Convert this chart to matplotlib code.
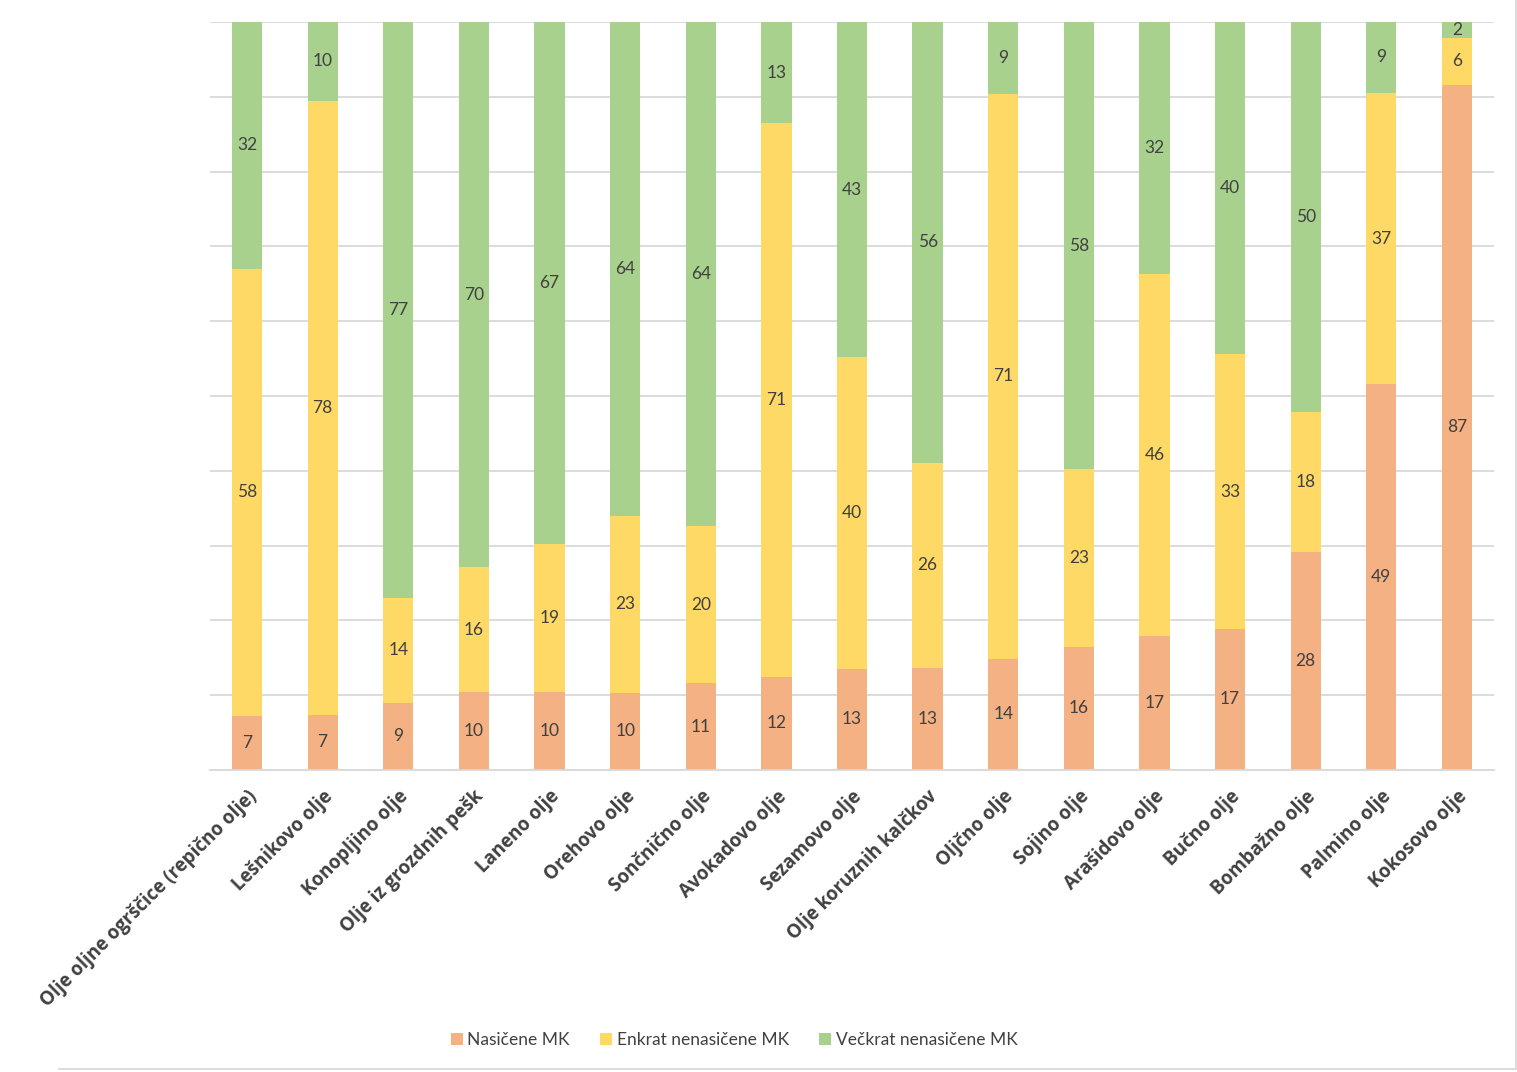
import matplotlib.pyplot as plt
import numpy as np
from matplotlib.lines import Line2D

plt.rcParams['font.family'] = ['Lato', 'DejaVu Sans']

oils = ['Olje oljne ogrščice (repično olje)', 'Lešnikovo olje', 'Konopljino olje',
        'Olje iz grozdnih pešk', 'Laneno olje', 'Orehovo olje', 'Sončnično olje',
        'Avokadovo olje', 'Sezamovo olje', 'Olje koruznih kalčkov', 'Oljčno olje',
        'Sojino olje', 'Arašidovo olje', 'Bučno olje', 'Bombažno olje',
        'Palmino olje', 'Kokosovo olje']
nasicene = [7, 7, 9, 10, 10, 10, 11, 12, 13, 13, 14, 16, 17, 17, 28, 49, 87]
enkrat = [58, 78, 14, 16, 19, 23, 20, 71, 40, 26, 71, 23, 46, 33, 18, 37, 6]
veckrat = [32, 10, 77, 70, 67, 64, 64, 13, 43, 56, 9, 58, 32, 40, 50, 9, 2]
series_names = ['Nasičene MK', 'Enkrat nenasičene MK', 'Večkrat nenasičene MK']

COLORS = ['#F4B183', '#FFD966', '#A9D18E']
TEXT = '#404040'

fig = plt.figure(figsize=(15.17, 10.72), dpi=100)
ax = fig.add_axes([210 / 1517, 1 - 770 / 1072, (1494 - 210) / 1517, (770 - 22) / 1072])

data = np.array([nasicene, enkrat, veckrat], dtype=float)
pct = data / data.sum(axis=0) * 100
x = np.arange(len(oils))
bottom = np.zeros(len(oils))
for vals, p, color, name in zip(data, pct, COLORS, series_names):
    ax.bar(x, p, 0.4, bottom=bottom, color=color, label=name, zorder=3)
    for xi, b, h, v in zip(x, bottom, p, vals):
        ax.text(xi, b + h / 2, f'{int(v)}', ha='center', va='center',
                fontsize=12.5, color=TEXT, zorder=4)
    bottom += p

ax.set_xlim(-0.49, len(oils) - 0.51)
ax.set_ylim(0, 100)
ax.set_yticks(np.arange(0, 101, 10))
ax.set_yticklabels([])
ax.tick_params(axis='y', length=0)
ax.grid(axis='y', color='#D9D9D9', linewidth=1.3, zorder=0)
for side in ['top', 'right', 'left']:
    ax.spines[side].set_visible(False)
ax.spines['bottom'].set_color('#D9D9D9')
ax.spines['bottom'].set_linewidth(1.3)
ax.spines['bottom'].set_zorder(5)

ax.set_xticks(x)
ax.set_xticklabels(oils, rotation=45, ha='right', rotation_mode='anchor',
                   fontsize=13.5, fontweight='bold', color=TEXT,
                   family=['Open Sans', 'DejaVu Sans'])
ax.tick_params(axis='x', length=0, pad=12)

fig.legend(loc='center', bbox_to_anchor=(0.484, 1 - 1040 / 1072), ncol=3, frameon=False,
           fontsize=12.5, handlelength=0.7, handleheight=0.7, handletextpad=0.25,
           columnspacing=1.75, labelcolor=TEXT)

# chart area border (bottom and right edge visible)
fig.add_artist(Line2D([59 / 1517, 1516 / 1517], [1 - 1069 / 1072] * 2,
                      transform=fig.transFigure, color='#D9D9D9', linewidth=1.3))
fig.add_artist(Line2D([1516 / 1517] * 2, [1 - 1069 / 1072, 1],
                      transform=fig.transFigure, color='#D9D9D9', linewidth=1.3))

plt.savefig('out.png')
